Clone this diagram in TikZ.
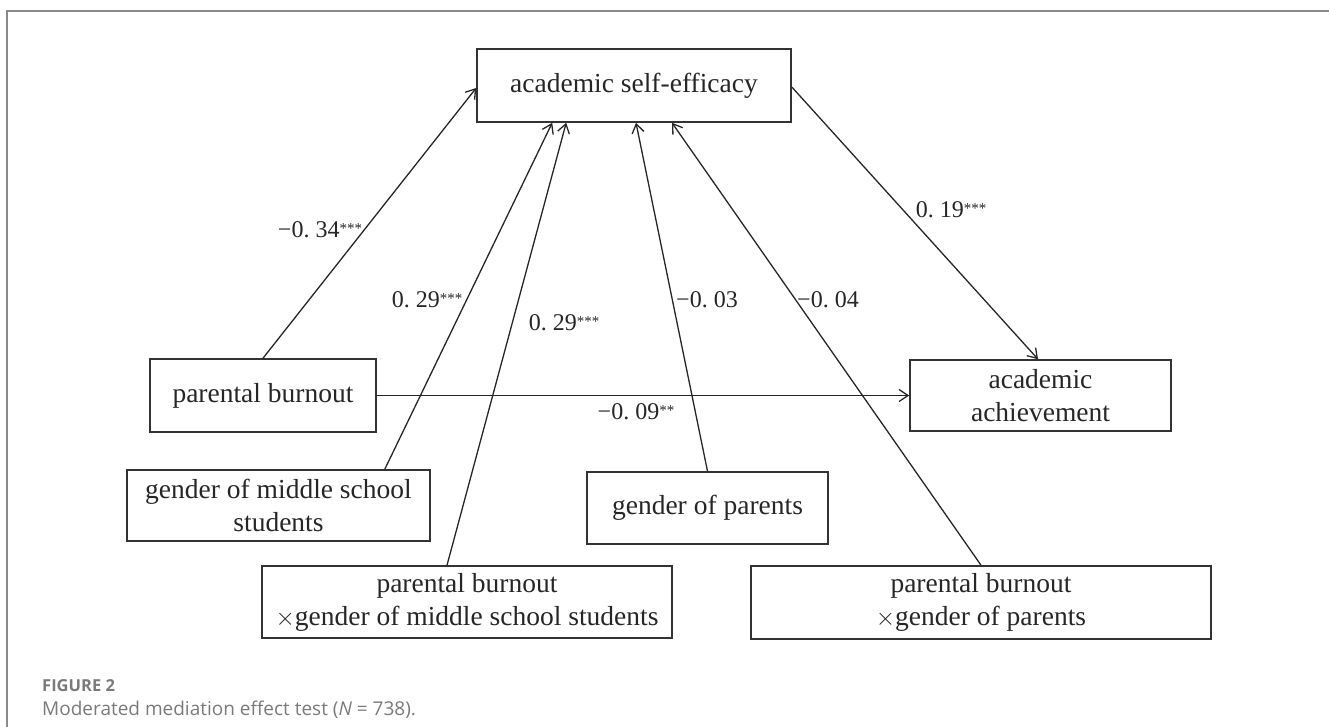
\documentclass[tikz,border=0pt]{standalone}
\usepackage{fontspec}
\setmainfont{Liberation Serif}
\newfontfamily\capfont{Open Sans}
\usetikzlibrary{arrows.meta,calc}
\definecolor{framegray}{HTML}{8A8A8A}
\definecolor{boxline}{HTML}{333333}
\definecolor{captext}{HTML}{7A7A7A}
\newcommand{\stars}[1]{{\fontsize{15}{15}\selectfont\raisebox{4pt}{#1}}}
\begin{document}
\begin{tikzpicture}[x=1pt,y=-1pt,
  varbox/.style={draw=boxline,line width=1.6pt,inner sep=0pt,align=center,
     font=\fontsize{27.5}{33}\selectfont,text=black!85},
  conn/.style={draw=black!85,line width=1.3pt,-{Straight Barb[length=9pt,width=12pt,line width=1.3pt]}},
  coef/.style={font=\fontsize{24}{24}\selectfont,text=black!85,inner sep=0pt}]
\useasboundingbox (0,0) rectangle (1329,727);
% frame
\draw[framegray,line width=1.5pt] (7,727) -- (7,11) -- (1329,11);
% nodes
\node[varbox,minimum width=314pt,minimum height=73pt] (ase) at (634,85.5) {academic self-efficacy};
\node[varbox,minimum width=226pt,minimum height=73pt] (pb) at (263,395.5) {parental burnout};
\node[varbox,minimum width=261pt,minimum height=71pt] (aa) at (1040.5,395.5) {academic\\achievement};
\node[varbox,minimum width=303pt,minimum height=71pt] (gms) at (278.5,505.5) {gender of middle school\\students};
\node[varbox,minimum width=241pt,minimum height=72pt] (gp) at (707.5,508) {gender of parents};
\node[varbox,minimum width=410pt,minimum height=72pt] (pbg) at (467,602) {parental burnout\\$\times$gender of middle school students};
\node[varbox,minimum width=460pt,minimum height=73pt] (pbp) at (981,602.5) {parental burnout\\$\times$gender of parents};
% connectors
\draw[conn] (pb.north) -- ($(ase.west)+(0,2.5)$);
\draw[conn] ($(gms.north east)+(-46,0)$) -- ($(ase.south west)+(76,0)$);
\draw[conn] ($(pbg.north)+(-20,0)$) -- ($(ase.south west)+(90,0)$);
\draw[conn] (gp.north) -- ($(ase.south)+(2,0)$);
\draw[conn] (pbp.north) -- ($(ase.south)+(38,0)$);
\draw[conn] ($(ase.east)+(0,1.5)$) -- ($(aa.north)+(-2.5,0)$);
\draw[conn] (pb.east) -- (aa.west);
% coefficients
\node[coef] (c1) at (320,230) {−0.\ 34\stars{***}};
\node[coef] (c2) at (427,300) {0.\ 29\stars{***}};
\node[coef] (c3) at (564,323) {0.\ 29\stars{***}};
\node[coef] (c4) at (707,300) {−0.\ 03};
\node[coef] (c5) at (828,300) {−0.\ 04};
\node[coef] (c6) at (951,210) {0.\ 19\stars{***}};
\node[coef] (c7) at (636,412) {−0.\ 09\stars{**}};
% caption
\node[anchor=base west,inner sep=0pt,text=captext,font=\capfont\bfseries\fontsize{16.5}{16.5}\selectfont] (fig) at (42,691) {FIGURE 2};
\node[anchor=base west,inner sep=0pt,text=captext,font=\capfont\fontsize{19}{19}\selectfont] (cap) at (42,715) {Moderated mediation effect test (\textit{N} = 738).};
\end{tikzpicture}
\end{document}
